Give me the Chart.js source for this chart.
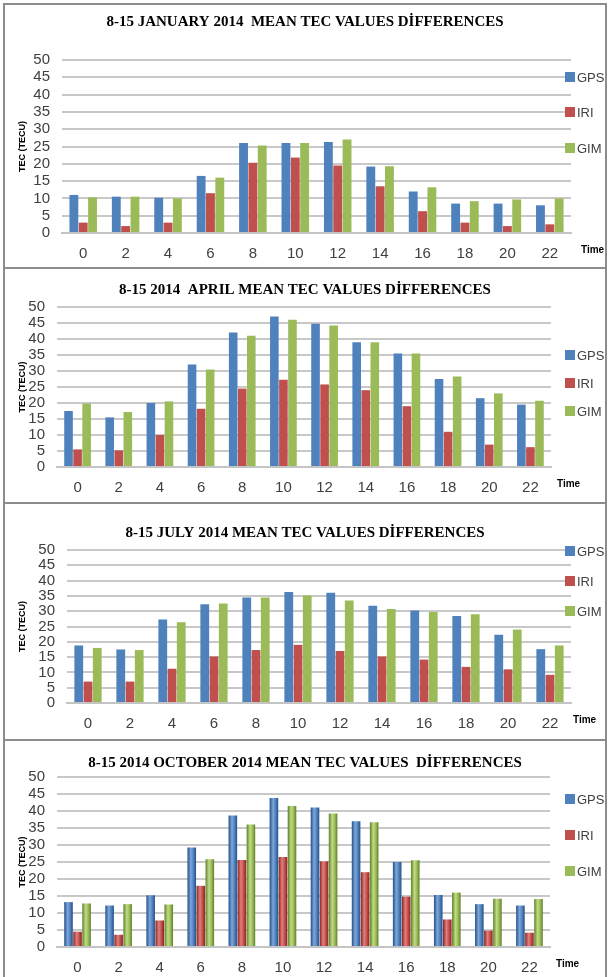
<!DOCTYPE html>
<html>
<head>
<meta charset="utf-8">
<title>Mean TEC values differences</title>
<script src="https://cdn.jsdelivr.net/npm/chart.js@4.4.1/dist/chart.umd.min.js"></script>
<style>
    body { margin: 0; background: #fff; width: 609px; height: 977px; overflow: hidden; position: relative; }
    .panel { position: absolute; left: 3px; width: 604px; border: 2px solid #8c8c8c; background: #fff; box-sizing: border-box; }
</style>
</head>
<body>
<div class="panel" style="top:3px;height:266px"><canvas id="graficoJan"></canvas></div>
<div class="panel" style="top:267px;height:237px"><canvas id="graficoApr"></canvas></div>
<div class="panel" style="top:502px;height:239px"><canvas id="graficoJul"></canvas></div>
<div class="panel" style="top:739px;height:240px"><canvas id="graficoOct"></canvas></div>
<script>
// horas (eixo x)
const hours = ['0', '2', '4', '6', '8', '10', '12', '14', '16', '18', '20', '22'];

// 8-15 janeiro
const janGps = [11, 10.5, 10.2, 16.5, 26, 26, 26.3, 19.2, 12, 8.5, 8.5, 8];
const janIri = [3, 2, 3, 11.5, 20.3, 21.8, 19.5, 13.5, 6.3, 3, 2, 2.5];
const janGim = [10.3, 10.5, 10, 16, 25.3, 26, 27, 19.3, 13.2, 9.2, 9.7, 10];

// 8-15 abril
const aprGps = [17.5, 15.5, 20, 32, 42, 47, 44.8, 39, 35.5, 27.5, 21.5, 19.5];
const aprIri = [5.5, 5.2, 10, 18.2, 24.5, 27.3, 25.8, 24, 19, 11, 7, 6.2];
const aprGim = [19.8, 17.2, 20.5, 30.5, 41, 46, 44.2, 39, 35.5, 28.3, 23, 20.7];

// 8-15 julho
const julGps = [18.8, 17.5, 27.3, 32.3, 34.5, 36.3, 36, 31.8, 30.2, 28.4, 22.3, 17.6];
const julIri = [7, 7, 11.2, 15.2, 17.3, 19, 17, 15.2, 14.2, 11.8, 11, 9.2];
const julGim = [18, 17.3, 26.4, 32.5, 34.5, 35.1, 33.5, 30.7, 29.7, 29, 24, 18.8];

// 8-15 outubro
const octGps = [13.2, 12.2, 15.2, 29.3, 38.7, 43.8, 41, 37, 25, 15.3, 12.6, 12.2];
const octIri = [4.5, 3.6, 7.8, 18, 25.6, 26.5, 25.2, 22, 14.8, 8.1, 4.8, 4.2];
const octGim = [12.8, 12.6, 12.5, 25.8, 36, 41.5, 39.3, 36.7, 25.5, 16, 14.2, 14.1];

const cores = ['#4f81bd', '#c0504d', '#9bbb59'];
const coresEscuras = ['#22508a', '#8c2220', '#5f7f2a'];
const coresClaras = ['#7fa6d8', '#e0807c', '#c0dc84'];

// "Time" no fim do eixo x + legenda na direita
const extras = {
    id: 'extras',
    afterDraw(chart, args, opts) {
        const ctx = chart.ctx;
        const area = chart.chartArea;
        ctx.save();
        ctx.font = 'bold 10px "Liberation Sans"';
        ctx.fillStyle = '#000';
        ctx.textBaseline = 'middle';
        ctx.fillText('Time', area.right + opts.timeDx, area.bottom + 17);

        ctx.font = '13px "Liberation Sans"';
        chart.data.datasets.forEach((ds, i) => {
            const y = opts.legendY[i];
            ctx.fillStyle = cores[i];
            ctx.fillRect(opts.legendX, y - 5, 10, 10);
            ctx.fillStyle = '#404040';
            ctx.fillText(ds.label, opts.legendX + 12, y + 1);
        });
        ctx.restore();
    }
};

// barras com efeito cilindrico (grafico de outubro)
function corBarra(i, cilindro) {
    return function(c) {
        const el = c.element;
        if (!cilindro || !el || !el.width) return cores[i];
        const g = c.chart.ctx.createLinearGradient(el.x - el.width / 2, 0, el.x + el.width / 2, 0);
        g.addColorStop(0, coresEscuras[i]);
        g.addColorStop(0.4, coresClaras[i]);
        g.addColorStop(0.7, cores[i]);
        g.addColorStop(1, coresEscuras[i]);
        return g;
    };
}

function criarGrafico(id, titulo, gps, iri, gim, cfg) {
    const ctx = document.getElementById(id).getContext('2d');
    const series = [['GPS', gps], ['IRI', iri], ['GIM', gim]];
    const chart = new Chart(ctx, {
        type: 'bar',
        data: {
            labels: hours,
            datasets: series.map((s, i) => ({
                label: s[0],
                data: s[1],
                backgroundColor: corBarra(i, cfg.cilindro),
                borderWidth: 0
            }))
        },
        options: {
            responsive: true,
            maintainAspectRatio: false,
            animation: false,
            categoryPercentage: 0.66,
            barPercentage: 0.95,
            layout: { padding: 0 },
            plugins: {
                title: {
                    display: true,
                    text: titulo,
                    color: '#000',
                    font: { family: '"Liberation Serif"', size: 15, weight: 'bold' },
                    padding: { top: cfg.titleTop, bottom: cfg.titleBottom }
                },
                legend: { display: false },
                tooltip: { enabled: false },
                extras: { legendX: 560, legendY: cfg.legendY, timeDx: cfg.timeDx }
            },
            scales: {
                x: {
                    afterFit: scale => { scale.height = cfg.xHeight; },
                    grid: { display: false, drawTicks: false },
                    border: { color: '#c4c4c4', width: 2 },
                    ticks: {
                        color: '#404040',
                        padding: 12,
                        font: { family: '"Liberation Sans"', size: 15 }
                    }
                },
                y: {
                    min: 0,
                    max: 50,
                    afterFit: scale => { scale.width = cfg.yWidth; },
                    grid: { color: '#c8c8c8', lineWidth: 2, drawTicks: false },
                    border: { display: false },
                    ticks: {
                        stepSize: 5,
                        autoSkip: false,
                        color: '#404040',
                        padding: 12,
                        font: { family: '"Liberation Sans"', size: 15 }
                    },
                    title: {
                        display: true,
                        text: 'TEC (TECU)',
                        color: '#000',
                        padding: { top: 12, bottom: 0 },
                        font: { family: '"Liberation Sans"', size: 9, weight: 'bold' }
                    }
                },
                // espaco da legenda a direita
                espaco: {
                    position: 'right',
                    afterFit: scale => { scale.width = cfg.padRight; },
                    grid: { display: false, drawTicks: false },
                    border: { display: false },
                    ticks: { display: false }
                }
            }
        },
        plugins: [extras]
    });
    if (cfg.cilindro) chart.update();
    return chart;
}

criarGrafico('graficoJan', '8-15 JANUARY 2014  MEAN TEC VALUES DİFFERENCES', janGps, janIri, janGim,
    { titleTop: 8, titleBottom: 29, yWidth: 57, padRight: 34, xHeight: 34, legendY: [72, 107, 143], timeDx: 10 });
criarGrafico('graficoApr', '8-15 2014  APRIL MEAN TEC VALUES DİFFERENCES', aprGps, aprIri, aprGim,
    { titleTop: 12, titleBottom: 8, yWidth: 52, padRight: 54, xHeight: 35, legendY: [86, 114, 142], timeDx: 6 });
criarGrafico('graficoJul', '8-15 JULY 2014 MEAN TEC VALUES DİFFERENCES', julGps, julIri, julGim,
    { titleTop: 20, titleBottom: 8, yWidth: 62, padRight: 34, xHeight: 36, legendY: [47, 77, 107], timeDx: 2 });
criarGrafico('graficoOct', '8-15 2014 OCTOBER 2014 MEAN TEC VALUES  DİFFERENCES', octGps, octIri, octGim,
    { titleTop: 13, titleBottom: 5, yWidth: 52, padRight: 55, xHeight: 30, legendY: [58, 94, 130], timeDx: 6, cilindro: true });
</script>
</body>
</html>
